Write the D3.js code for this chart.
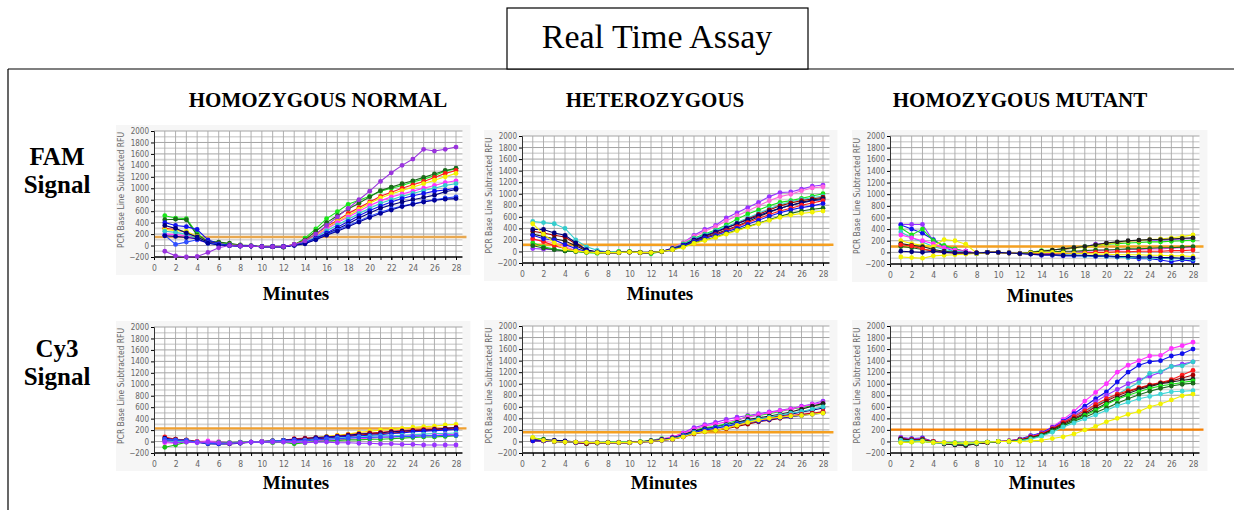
<!DOCTYPE html>
<html>
<head>
<meta charset="utf-8">
<script src="https://cdn.jsdelivr.net/npm/d3@7"></script>
<style>
  body { margin: 0; background: #fff; }
  svg { display: block; }
</style>
</head>
<body>
<svg id="chart" width="1234" height="510"></svg>
<script>
// --- data ---
const minutes = [1, 2, 3, 4, 5, 6, 7, 8, 9, 10, 11, 12, 13, 14, 15, 16, 17, 18, 19, 20, 21, 22, 23, 24, 25, 26, 27, 28];
const xTickLabels = [0, 2, 4, 6, 8, 10, 12, 14, 16, 18, 20, 22, 24, 26, 28];
const yTickLabels = [-200, 0, 200, 400, 600, 800, 1000, 1200, 1400, 1600, 1800, 2000];
const columnTitles = ["HOMOZYGOUS NORMAL", "HETEROZYGOUS", "HOMOZYGOUS MUTANT"];
const rowTitles = [["FAM", "Signal"], ["Cy3", "Signal"]];
const thresholds = [150, 115, 100, 230, 160, 205];

const famNormalColors = ["#19e619", "#1a6b1a", "#ff1a1a", "#f2f200", "#ff33ff", "#33cccc", "#1010ee", "#000080", "#3050ff", "#00009a", "#9933dd"];
const famNormal = [
  [520, 480, 470, 210, 60, 50, 30, 0, -10, -20, -20, -20, 10, 130, 290, 470, 590, 720, 790, 860, 950, 1000, 1050, 1110, 1160, 1220, 1300, 1340],
  [450, 460, 450, 180, 80, 60, 40, 10, 0, -20, -20, -30, 20, 100, 250, 400, 520, 640, 740, 850, 960, 1020, 1080, 1130, 1190, 1250, 1310, 1350],
  [300, 280, 230, 150, 60, 30, 10, 0, -10, -20, -20, -20, 20, 80, 200, 330, 440, 560, 660, 760, 860, 930, 1000, 1060, 1120, 1190, 1260, 1310],
  [280, 260, 250, 160, 50, 20, 10, 0, -10, -20, -20, -20, 20, 70, 180, 300, 420, 520, 630, 740, 830, 900, 960, 1020, 1080, 1140, 1200, 1260],
  [200, 190, 170, 100, 40, 20, 0, -10, -10, -20, -20, -20, 10, 60, 160, 290, 400, 500, 600, 700, 780, 850, 900, 950, 1000, 1050, 1100, 1130],
  [250, 230, 200, 120, 40, 20, 0, -10, -10, -20, -20, -20, 10, 60, 150, 260, 360, 460, 560, 650, 740, 800, 860, 910, 960, 1000, 1050, 1080],
  [400, 350, 330, 280, 100, 30, 10, 0, -10, -20, -20, -20, 10, 50, 130, 220, 320, 420, 520, 610, 690, 760, 820, 870, 910, 950, 970, 1000],
  [350, 300, 220, 150, 60, 20, 0, -10, -10, -20, -20, -20, 10, 40, 120, 200, 290, 380, 480, 570, 650, 710, 760, 800, 840, 880, 940, 980],
  [180, 20, 60, 100, 50, 20, 0, -10, -10, -20, -20, -20, 10, 40, 110, 190, 270, 350, 430, 510, 580, 640, 690, 730, 770, 800, 830, 850],
  [170, 160, 140, 120, 40, 10, 0, -10, -10, -20, -20, -20, 0, 30, 100, 180, 250, 330, 410, 490, 560, 620, 680, 720, 760, 790, 810, 820],
  [-100, -180, -200, -190, -120, -40, 0, -10, -10, -20, -20, -20, 20, 80, 200, 350, 500, 650, 800, 950, 1120, 1270, 1400, 1510, 1680, 1650, 1680, 1720]
];

const famHeteroColors = ["#9933ff", "#ff66dd", "#19e619", "#33cccc", "#a00000", "#202020", "#000080", "#ff1a1a", "#1010ee", "#1a6b1a", "#f2f200"];
const famHetero = [
  [50, 40, 30, 10, 0, -10, -20, -20, -10, -10, -20, -20, 0, 60, 150, 280, 380, 450, 580, 670, 760, 850, 950, 1020, 1030, 1080, 1130, 1150],
  [200, 180, 150, 80, 20, 0, -10, -20, -10, -10, -20, -20, 0, 60, 150, 260, 350, 430, 530, 620, 700, 790, 880, 950, 990, 1050, 1100, 1120],
  [150, 80, 40, 10, 0, -20, -30, -20, 0, 0, -10, -40, 0, 50, 130, 230, 300, 370, 460, 560, 650, 720, 790, 850, 880, 920, 960, 1000],
  [520, 500, 480, 400, 200, 80, 20, -10, -10, -10, -20, -20, 0, 50, 120, 220, 290, 360, 430, 500, 580, 660, 740, 810, 860, 900, 930, 960],
  [350, 320, 280, 250, 130, 20, -10, -20, -20, -10, -20, -20, 0, 40, 100, 190, 260, 330, 400, 480, 560, 640, 720, 790, 840, 880, 910, 940],
  [300, 260, 220, 180, 100, 10, -10, -20, -20, -10, -20, -20, 0, 40, 100, 180, 240, 300, 370, 440, 520, 600, 680, 750, 800, 850, 890, 920],
  [380, 380, 320, 280, 150, 30, -10, -20, -20, -10, -20, -20, 0, 50, 110, 200, 270, 340, 410, 480, 550, 620, 690, 750, 800, 840, 880, 900],
  [220, 170, 100, 50, 10, -10, -20, -20, -20, -10, -20, -20, 0, 30, 90, 170, 230, 290, 360, 430, 500, 570, 640, 700, 750, 800, 840, 880],
  [280, 220, 200, 120, 50, 0, -10, -20, -20, -10, -20, -20, 0, 40, 100, 170, 230, 280, 340, 400, 470, 540, 610, 670, 720, 760, 790, 830],
  [100, 60, 30, 10, 0, -10, -20, -20, -20, -10, -20, -20, 0, 30, 80, 150, 200, 250, 310, 370, 430, 490, 550, 610, 660, 700, 730, 750],
  [480, 300, 150, 40, 10, -10, -20, -20, -20, -10, -20, -20, 0, 30, 70, 140, 190, 240, 300, 360, 420, 480, 540, 590, 630, 660, 680, 700]
];

const famMutantColors = ["#9933ff", "#1010ee", "#19e619", "#33cccc", "#ff33ff", "#f2f200", "#202020", "#1a6b1a", "#ff1a1a", "#f2f200", "#000080"];
const famMutant = [
  [480, 480, 480, 200, 100, 60, 20, -20, 0, 0, -10, -20, -10, -20, -20, 40, 80, 100, 140, 160, 170, 190, 200, 210, 210, 220, 230, 240],
  [470, 400, 330, 220, 100, 0, 20, -20, 0, 0, -10, -20, -30, -50, -50, -60, -60, -60, -70, -70, -80, -90, -110, -110, -130, -160, -130, -150],
  [420, 300, 400, 200, 120, 60, 10, -20, 0, 0, -10, -20, 0, 30, 40, 60, 80, 100, 120, 140, 150, 160, 170, 180, 180, 190, 200, 210],
  [350, 250, 180, 100, 50, 20, 0, -10, 0, 0, -10, -20, -20, -20, -40, -40, -50, -60, -60, -70, -80, -90, -90, -100, -100, -110, -110, -120],
  [300, 250, 200, 150, 80, 40, 20, -10, 0, 0, -10, -20, -10, 0, 0, 10, 10, 20, 30, 40, 40, 50, 50, 60, 60, 70, 80, 80],
  [200, 150, 120, 100, 220, 200, 140, -10, 0, 0, -10, -20, 0, 20, 40, 50, 70, 90, 120, 150, 170, 190, 200, 220, 230, 250, 270, 300],
  [150, 120, 100, 50, 20, 0, -10, -10, 0, 0, -10, -20, 0, 20, 40, 60, 80, 100, 130, 160, 180, 200, 210, 220, 220, 230, 240, 250],
  [100, 80, 50, 30, 10, 0, -10, -10, 0, 0, -10, -20, -10, 0, 10, 20, 20, 30, 40, 40, 50, 60, 60, 70, 80, 80, 90, 100],
  [130, 110, 60, 20, 0, -10, -20, -10, 0, 0, -10, -20, -20, -30, -30, -20, -20, -10, 0, 0, 10, 10, 20, 20, 20, 30, 30, 40],
  [-80, -90, -100, -60, -50, -40, -30, -20, 0, 0, -10, -20, -10, 0, 0, -10, -20, -20, -30, -30, -40, -40, -40, -50, -50, -60, -60, -70],
  [20, 10, 0, 20, 0, -10, -10, -10, 0, 0, -10, -20, -30, -40, -40, -50, -50, -50, -60, -60, -70, -70, -80, -80, -90, -90, -100, -100]
];

const cy3NormalColors = ["#f2f200", "#ff1a1a", "#000080", "#a00000", "#1010ee", "#33cccc", "#ff33ff", "#19c019", "#3050ff", "#9933ff"];
const cy3Normal = [
  [40, 20, 10, 0, -20, -20, -30, -20, -10, 0, 10, 20, 40, 50, 70, 90, 110, 130, 160, 180, 200, 210, 230, 250, 260, 270, 290, 300],
  [80, 40, 20, 0, -30, -30, -40, -20, -10, 0, 10, 20, 50, 60, 70, 80, 100, 120, 140, 150, 160, 180, 190, 200, 210, 220, 230, 250],
  [60, 30, 20, -10, -40, -40, -40, -30, -10, 0, 10, 20, 40, 50, 70, 80, 90, 110, 130, 140, 150, 170, 180, 190, 200, 210, 230, 240],
  [20, 40, 30, 0, -20, -30, -30, -20, -10, 0, 10, 20, 30, 40, 50, 60, 80, 100, 110, 130, 140, 150, 160, 180, 190, 200, 210, 220],
  [30, 20, 10, -10, -30, -40, -30, -20, -10, 0, 10, 20, 30, 30, 50, 70, 80, 90, 100, 110, 120, 140, 150, 170, 180, 190, 200, 210],
  [10, 0, 10, -10, -20, -20, -20, -10, -10, 0, 10, 10, 10, 20, 30, 40, 60, 70, 80, 90, 100, 100, 110, 120, 130, 140, 140, 150],
  [-20, -30, -10, 0, 10, 0, -20, -10, -10, 0, 0, 0, 10, 10, 20, 20, 30, 40, 50, 60, 70, 80, 90, 100, 100, 110, 120, 120],
  [-100, -60, -10, -10, -20, -10, -20, -10, -10, -10, -20, -10, -40, -20, 0, 10, 20, 30, 30, 40, 40, 50, 60, 70, 80, 80, 90, 100],
  [40, 30, 20, -10, -30, -30, -30, -20, -10, -10, 0, 10, 20, 10, 30, 40, 50, 60, 70, 70, 80, 80, 90, 90, 100, 100, 110, 110],
  [0, -20, -10, -20, -10, -20, -30, -20, -10, -10, -10, -10, -10, -20, -10, -10, -20, -20, -30, -30, -40, -40, -50, -50, -60, -60, -60, -60]
];

const cy3HeteroColors = ["#9933ff", "#19e619", "#ff33ff", "#202020", "#000080", "#33cccc", "#ff1a1a", "#a00000", "#1010ee", "#f2f200"];
const cy3Hetero = [
  [30, 20, 10, 0, -10, -20, -20, -20, -20, -20, -10, 0, 30, 70, 150, 240, 290, 330, 380, 420, 450, 480, 510, 540, 570, 610, 650, 700],
  [60, 40, 0, -10, -10, -40, -20, -10, -10, -10, 0, 20, 50, 60, 110, 190, 240, 260, 310, 360, 440, 450, 480, 520, 560, 590, 620, 640],
  [20, 20, 10, 0, -10, -20, -20, -20, -20, -20, -10, 10, 40, 80, 140, 210, 270, 300, 340, 380, 420, 460, 500, 530, 560, 600, 640, 670],
  [40, 30, 20, 0, -20, -40, -30, -20, -20, -20, -10, 10, 30, 60, 110, 180, 220, 250, 290, 330, 380, 410, 440, 470, 510, 560, 610, 660],
  [30, 20, 20, 10, -10, -30, -20, -20, -20, -20, -10, 10, 30, 60, 110, 170, 210, 240, 280, 320, 360, 390, 420, 440, 470, 510, 540, 580],
  [20, 20, 0, -10, -20, -20, -20, -20, -20, -20, -10, 0, 20, 50, 100, 160, 200, 240, 280, 310, 350, 390, 420, 460, 490, 520, 560, 600],
  [10, 10, 0, -10, -20, -30, -20, -20, -20, -20, -10, 0, 20, 40, 80, 140, 180, 200, 230, 280, 320, 360, 400, 430, 450, 470, 490, 520],
  [20, 10, 0, -10, -20, -30, -20, -20, -20, -20, -10, 0, 20, 40, 80, 130, 170, 190, 220, 260, 300, 340, 370, 400, 430, 460, 480, 500],
  [10, 10, 0, -10, -20, -20, -20, -20, -20, -20, -10, 0, 20, 40, 90, 150, 200, 230, 260, 300, 330, 350, 380, 410, 430, 450, 470, 490],
  [70, 20, 0, -10, -10, -20, -20, -20, -20, -20, -10, 0, 20, 40, 80, 140, 170, 190, 230, 280, 330, 370, 400, 420, 440, 450, 470, 490]
];

const cy3MutantColors = ["#ff33ff", "#1010ee", "#9933ff", "#33cccc", "#ff1a1a", "#a00000", "#202020", "#19e619", "#1a6b1a", "#40d8d8", "#f2f200"];
const cy3Mutant = [
  [60, 40, 40, 0, -30, -40, -50, -30, -10, 0, 10, 30, 80, 150, 250, 380, 520, 700, 850, 1000, 1200, 1320, 1400, 1480, 1490, 1610, 1660, 1720],
  [60, 50, 60, 0, -40, -50, -60, -30, -10, 0, 10, 40, 100, 150, 240, 350, 480, 610, 740, 860, 1030, 1200, 1320, 1380, 1400, 1480, 1520, 1600],
  [70, 40, 50, 0, -40, -60, -70, -40, -20, 0, 10, 30, 90, 140, 230, 340, 450, 560, 690, 800, 900, 1000, 1070, 1130, 1200, 1300, 1340, 1380],
  [40, 20, 30, 0, -30, -40, -50, -30, -10, 0, 10, 20, 70, 120, 200, 310, 420, 520, 620, 720, 820, 920, 1020, 1180, 1210, 1300, 1310, 1380],
  [50, 30, 40, 0, -30, -50, -60, -40, -20, 0, 10, 30, 80, 130, 220, 330, 430, 530, 640, 740, 820, 880, 930, 980, 1020, 1070, 1150, 1230],
  [40, 30, 20, -10, -40, -50, -60, -40, -20, 0, 0, 20, 70, 120, 210, 310, 400, 490, 600, 700, 790, 860, 920, 970, 1010, 1050, 1100, 1150],
  [50, 20, 30, -10, -40, -60, -70, -40, -20, 0, 0, 20, 60, 110, 200, 290, 380, 470, 560, 660, 750, 830, 900, 950, 1000, 1030, 1060, 1080],
  [-20, -10, 0, -20, -20, -20, -30, -20, -10, 0, 0, 10, 50, 100, 180, 270, 360, 450, 540, 640, 730, 800, 860, 920, 960, 990, 1020, 1050],
  [20, 0, 10, -20, -30, -40, -50, -30, -10, 0, 0, 10, 50, 100, 180, 270, 350, 420, 500, 580, 660, 740, 810, 870, 920, 960, 990, 1010],
  [20, 10, 10, -20, -30, -40, -40, -30, -10, 0, 0, 10, 40, 90, 160, 250, 320, 390, 460, 540, 620, 680, 740, 780, 820, 860, 870, 880],
  [-20, -10, 0, -20, -20, -30, -30, -20, -10, 0, 0, 0, 10, 20, 50, 80, 130, 200, 260, 340, 400, 470, 520, 600, 650, 720, 790, 820]
];

// --- layout ---
const svg = d3.select("#chart");
const serif = "'Liberation Serif', 'Times New Roman', serif";
const narrow = "'Liberation Sans Narrow', 'DejaVu Sans Condensed', sans-serif";

// frame lines and title box
svg.append("line").attr("x1", 8).attr("x2", 1234).attr("y1", 69).attr("y2", 69)
  .attr("stroke", "#000").attr("stroke-width", 1.2);
svg.append("line").attr("x1", 8).attr("x2", 8).attr("y1", 69).attr("y2", 510)
  .attr("stroke", "#000").attr("stroke-width", 1.2);
svg.append("rect").attr("x", 507).attr("y", 8).attr("width", 301).attr("height", 61)
  .attr("fill", "#fff").attr("stroke", "#000").attr("stroke-width", 1.2);
svg.append("text").attr("x", 657).attr("y", 48).attr("text-anchor", "middle")
  .style("font-family", serif).style("font-size", "34px")
  .text("Real Time Assay");

const colCenters = [318, 655, 1020];
columnTitles.forEach((t, i) => {
  svg.append("text").attr("x", colCenters[i]).attr("y", 107).attr("text-anchor", "middle")
    .style("font-family", serif).style("font-size", "21px").style("font-weight", "bold")
    .text(t);
});

// row labels (FAM / Cy3 over "Signal")
const rowBase = [165, 357];
rowTitles.forEach((lines, r) => {
  lines.forEach((s, k) => {
    svg.append("text").attr("x", 57).attr("y", rowBase[r] + k * 28).attr("text-anchor", "middle")
      .style("font-family", serif).style("font-size", "25px").style("font-weight", "bold")
      .text(s);
  });
});

const panels = [
  { series: famNormal, colors: famNormalColors, left: 154, right: 456, top: 131, bottom: 257, threshold: thresholds[0], orange: "#e8a850", mx: 296, my: 300 },
  { series: famHetero, colors: famHeteroColors, left: 522, right: 823, top: 136, bottom: 263, threshold: thresholds[1], orange: "#f5a020", mx: 660, my: 300 },
  { series: famMutant, colors: famMutantColors, left: 890, right: 1193, top: 136, bottom: 264, threshold: thresholds[2], orange: "#f5a020", mx: 1040, my: 302 },
  { series: cy3Normal, colors: cy3NormalColors, left: 154, right: 456, top: 327, bottom: 453, threshold: thresholds[3], orange: "#f0a030", mx: 296, my: 489 },
  { series: cy3Hetero, colors: cy3HeteroColors, left: 522, right: 823, top: 326, bottom: 453, threshold: thresholds[4], orange: "#f5a020", mx: 664, my: 489 },
  { series: cy3Mutant, colors: cy3MutantColors, left: 890, right: 1193, top: 326, bottom: 453, threshold: thresholds[5], orange: "#f57f00", mx: 1042, my: 489 }
];

panels.forEach(p => {
  const x = d3.scaleLinear().domain([0, 28]).range([p.left, p.right]);
  const y = d3.scaleLinear().domain([-200, 2000]).range([p.bottom, p.top]);
  const g = svg.append("g");
  const xEnd = x(28.6);

  // faint screenshot background
  g.append("rect").attr("x", p.left - 38).attr("y", p.top - 6)
    .attr("width", xEnd - p.left + 46).attr("height", p.bottom - p.top + 24)
    .attr("fill", "#f6f6f6");
  g.append("rect").attr("x", p.left).attr("y", p.top)
    .attr("width", xEnd - p.left).attr("height", p.bottom - p.top)
    .attr("fill", "#fff");

  // grid
  const hLines = d3.range(-100, 2001, 100);
  g.selectAll(".hg").data(hLines).enter().append("line")
    .attr("x1", p.left).attr("x2", xEnd)
    .attr("y1", d => y(d)).attr("y2", d => y(d))
    .attr("stroke", d => d % 200 === 0 ? "#a4a4a4" : "#d6d6d6")
    .attr("stroke-width", d => d % 200 === 0 ? 1 : 1.6);
  g.selectAll(".vg").data(minutes).enter().append("line")
    .attr("x1", d => x(d)).attr("x2", d => x(d))
    .attr("y1", p.top).attr("y2", p.bottom)
    .attr("stroke", "#a8a8a8").attr("stroke-width", 0.9);

  // threshold
  g.append("line").attr("x1", p.left).attr("x2", xEnd + 4)
    .attr("y1", y(p.threshold)).attr("y2", y(p.threshold))
    .attr("stroke", p.orange).attr("stroke-width", 2.4);

  // axes
  const xAxis = g.append("g").attr("transform", `translate(0,${p.bottom})`)
    .call(d3.axisBottom(x).tickValues(xTickLabels).tickSize(3).tickPadding(5).tickFormat(d3.format("d")));
  xAxis.select(".domain").attr("d", `M${p.left},0H${xEnd}`).attr("stroke", "#000").attr("stroke-width", 1.6);
  xAxis.selectAll(".tick text").style("font-family", narrow).style("font-size", "8.5px").attr("fill", "#666");
  g.append("g").attr("transform", `translate(0,${p.bottom})`)
    .call(d3.axisBottom(x).tickValues(minutes).tickSize(3).tickFormat(""))
    .select(".domain").remove();

  const yAxis = g.append("g").attr("transform", `translate(${p.left},0)`)
    .call(d3.axisLeft(y).tickValues(yTickLabels).tickSize(3).tickPadding(2).tickFormat(d3.format("d")));
  yAxis.select(".domain").attr("stroke", "#333");
  yAxis.selectAll(".tick text").style("font-family", narrow).style("font-size", "8px").attr("fill", "#666");

  g.append("text")
    .attr("transform", `translate(${p.left - 30},${(p.top + p.bottom) / 2 - 4}) rotate(-90)`)
    .attr("text-anchor", "middle")
    .attr("textLength", 116).attr("lengthAdjust", "spacingAndGlyphs")
    .style("font-family", narrow).style("font-size", "8px").attr("fill", "#666")
    .text("PCR Base Line Subtracted RFU");

  // series
  const line = d3.line().x((d, i) => x(minutes[i])).y(d => y(d));
  p.series.forEach((s, k) => {
    const c = p.colors[k];
    g.append("path").datum(s).attr("d", line)
      .attr("fill", "none").attr("stroke", c).attr("stroke-width", 1.1);
    g.selectAll(null).data(s).enter().append("circle")
      .attr("cx", (d, i) => x(minutes[i])).attr("cy", d => y(d))
      .attr("r", 2.4).attr("fill", c);
  });

  svg.append("text").attr("x", p.mx).attr("y", p.my).attr("text-anchor", "middle")
    .style("font-family", serif).style("font-size", "19px").style("font-weight", "bold")
    .text("Minutes");
});
</script>
</body>
</html>
